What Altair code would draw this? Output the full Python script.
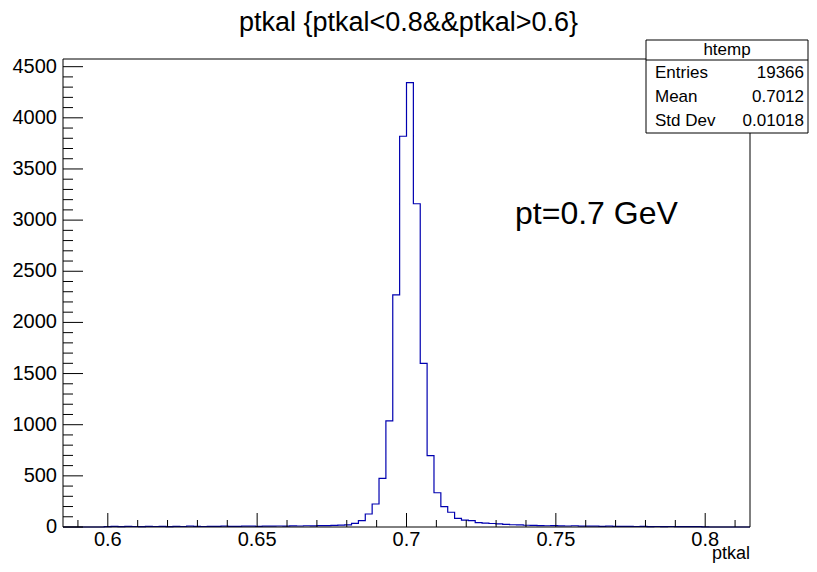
import altair as alt
import pandas as pd

FONT = "Liberation Sans"

# histogram definition
x_lo = 0.585
x_hi = 0.815
n_bins = 100
y_top = 4575

counts = [0, 0, 0, 0, 0, 0,
          3, 6, 4, 7, 5, 4, 6, 5, 7, 4, 6, 5, 8, 6, 5, 7, 6, 8, 7, 6, 9, 8, 7, 9, 8,
          10, 9, 11, 10, 12, 11, 13, 14, 16, 18,
          20, 36, 62, 127, 225, 476, 1037, 2270, 3820, 4345, 3160, 1600, 698, 335,
          200, 144, 85, 68, 62, 42,
          38, 34, 30, 26, 22, 20, 17, 15,
          14, 12, 13, 11, 10, 12, 9, 8, 9, 7, 8, 6, 7, 6, 5, 6, 4, 5, 4, 5, 3, 4, 3, 4, 2,
          0, 0, 0, 0, 0, 0]

x_major = [0.6, 0.65, 0.7, 0.75, 0.8]
x_labels = ["0.6", "0.65", "0.7", "0.75", "0.8"]
x_minor = [0.59, 0.61, 0.62, 0.63, 0.64, 0.66, 0.67, 0.68, 0.69, 0.71, 0.72,
           0.73, 0.74, 0.76, 0.77, 0.78, 0.79, 0.81]
y_major = [0, 500, 1000, 1500, 2000, 2500, 3000, 3500, 4000, 4500]
y_labels = ["0", "500", "1000", "1500", "2000", "2500", "3000", "3500", "4000", "4500"]
y_minor = [v for v in range(100, 4600, 100) if v % 500 != 0]

title_text = "ptkal {ptkal<0.8&&ptkal>0.6}"
x_title = "ptkal"
note_text = "pt=0.7 GeV"
stats_name = "htemp"
stats_labels = ["Entries", "Mean", "Std Dev"]
stats_values = ["19366", "0.7012", "0.01018"]

W, H = 687, 468

bw = (x_hi - x_lo) / n_bins
edges = [x_lo + i * bw for i in range(n_bins + 1)]
hist_df = pd.DataFrame({"x": edges, "y": counts + [counts[-1]]})

xs = alt.Scale(domain=[x_lo, x_hi], nice=False, zero=False)
ys = alt.Scale(domain=[0, y_top], nice=False, zero=True)

hist = alt.Chart(hist_df).mark_line(
    interpolate="step-after", color="#0000b0", strokeWidth=1.2
).encode(
    x=alt.X("x:Q", scale=xs, axis=None),
    y=alt.Y("y:Q", scale=ys, axis=None),
)

one = pd.DataFrame({"a": [0]})

frame = alt.Chart(one).mark_rect(filled=False, stroke="black", strokeWidth=1).encode(
    x=alt.value(0), x2=alt.value(W), y=alt.value(0), y2=alt.value(H))

ytick_major = alt.Chart(pd.DataFrame({"v": y_major})).mark_rule(color="black").encode(
    y=alt.Y("v:Q", scale=ys, axis=None), x=alt.value(0), x2=alt.value(20))
ytick_minor = alt.Chart(pd.DataFrame({"v": y_minor})).mark_rule(color="black").encode(
    y=alt.Y("v:Q", scale=ys, axis=None), x=alt.value(0), x2=alt.value(10))
xtick_major = alt.Chart(pd.DataFrame({"v": x_major})).mark_rule(color="black").encode(
    x=alt.X("v:Q", scale=xs, axis=None), y=alt.value(H), y2=alt.value(H - 14))
xtick_minor = alt.Chart(pd.DataFrame({"v": x_minor})).mark_rule(color="black").encode(
    x=alt.X("v:Q", scale=xs, axis=None), y=alt.value(H), y2=alt.value(H - 7))

ylab = alt.Chart(pd.DataFrame({"v": y_major, "t": y_labels})).mark_text(
    font=FONT, fontSize=20, align="right", baseline="middle", color="black"
).encode(y=alt.Y("v:Q", scale=ys, axis=None), x=alt.value(-6), text="t:N")
xlab = alt.Chart(pd.DataFrame({"v": x_major, "t": x_labels})).mark_text(
    font=FONT, fontSize=20, align="center", baseline="middle", color="black"
).encode(x=alt.X("v:Q", scale=xs, axis=None), y=alt.value(H + 13), text="t:N")

title = alt.Chart(one).mark_text(
    text=title_text, font=FONT, fontSize=27, align="center", baseline="middle", color="black"
).encode(x=alt.value(W / 2 + 2), y=alt.value(-36))

xtitle = alt.Chart(one).mark_text(
    text=x_title, font=FONT, fontSize=18, align="right", baseline="alphabetic", color="black"
).encode(x=alt.value(W), y=alt.value(500))

note = alt.Chart(one).mark_text(
    text=note_text, font=FONT, fontSize=32, align="left", baseline="middle", color="black"
).encode(x=alt.value(452), y=alt.value(155))

bx0, bx1, by0, by1, bsep = 583, 745, -19, 74, 1
box = alt.Chart(one).mark_rect(fill="white", stroke="black", strokeWidth=1).encode(
    x=alt.value(bx0), x2=alt.value(bx1), y=alt.value(by0), y2=alt.value(by1))
sep = alt.Chart(one).mark_rule(color="black").encode(
    x=alt.value(bx0), x2=alt.value(bx1), y=alt.value(bsep))
box_title = alt.Chart(one).mark_text(
    text=stats_name, font=FONT, fontSize=17, align="center", baseline="middle", color="black"
).encode(x=alt.value((bx0 + bx1) / 2), y=alt.value(-9))

row_pos = [14, 38, 62]
stats_layers = []
for lab, val, ry in zip(stats_labels, stats_values, row_pos):
    stats_layers.append(alt.Chart(one).mark_text(
        text=lab, font=FONT, fontSize=17, align="left", baseline="middle", color="black"
    ).encode(x=alt.value(592), y=alt.value(ry)))
    stats_layers.append(alt.Chart(one).mark_text(
        text=val, font=FONT, fontSize=17, align="right", baseline="middle", color="black"
    ).encode(x=alt.value(741), y=alt.value(ry)))

chart = alt.layer(
    hist, ytick_minor, ytick_major, xtick_minor, xtick_major, ylab, xlab, frame,
    title, xtitle, note, box, sep, box_title, *stats_layers
).properties(
    width=W, height=H,
    padding={"left": 55, "top": 51, "right": 59, "bottom": 37},
    autosize=alt.AutoSizeParams(type="none"),
    background="white",
).configure_view(stroke=None)

chart.save("out.html", embed_options={"renderer": "svg", "actions": False})
